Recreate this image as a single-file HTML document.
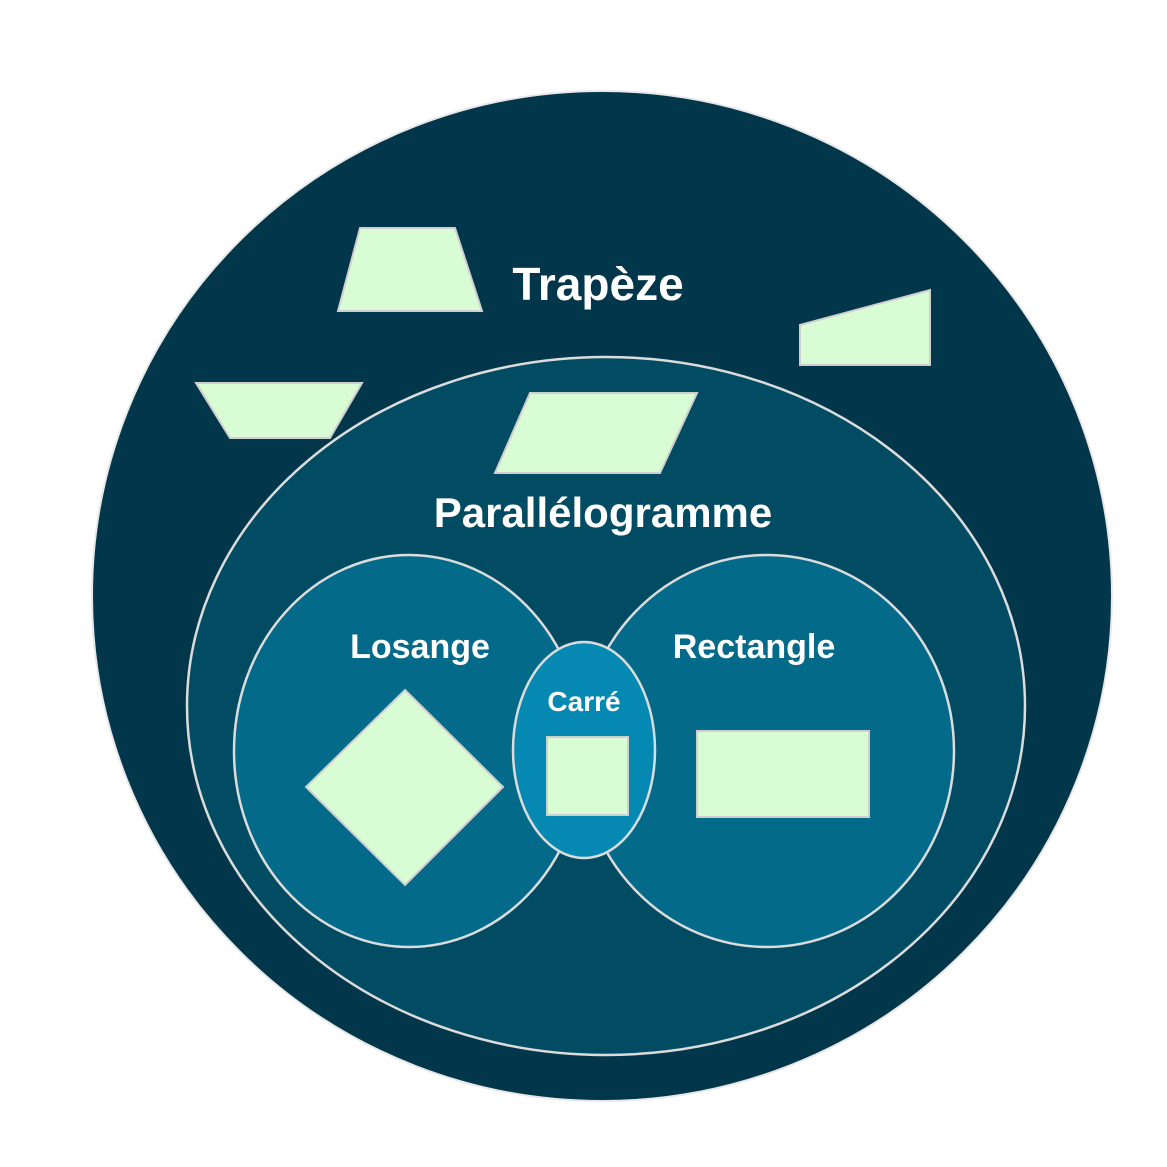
<!DOCTYPE html>
<html><head><meta charset="utf-8"><style>html,body{margin:0;padding:0;background:#fff}svg{display:block}</style></head>
<body>
<svg width="1167" height="1167" viewBox="0 0 1167 1167" xmlns="http://www.w3.org/2000/svg">
<ellipse cx="602" cy="596" rx="510" ry="505" fill="#02364a" stroke="#e8e8e8" stroke-width="2"/>
<ellipse cx="606" cy="706" rx="419" ry="349" fill="#024c63" stroke="#dcdcdc" stroke-width="2.5"/>
<ellipse cx="409" cy="751" rx="175" ry="196" fill="#036a8a" stroke="#dcdcdc" stroke-width="2.5"/>
<ellipse cx="767" cy="751" rx="187" ry="196" fill="#036a8a" stroke="#dcdcdc" stroke-width="2.5"/>
<ellipse cx="584" cy="750" rx="71" ry="108" fill="#0588b2" stroke="#dcdcdc" stroke-width="2.5"/>
<g fill="#d8fcd3" stroke="#cfcfcf" stroke-width="2">
<polygon points="360,228 455,228 482,311 338,311"/>
<polygon points="800,325 930,290 930,365 800,365"/>
<polygon points="196,383 362,383 330,438 230,438"/>
<polygon points="530,393 697,393 660,473 495,473"/>
<polygon points="405,690 503,787 405,885 306,787"/>
<rect x="547" y="737" width="81" height="78"/>
<rect x="697" y="731" width="172" height="86"/>
</g>
<g fill="#fff" font-family="Liberation Sans, sans-serif" font-weight="bold" text-anchor="middle">
<text x="598" y="300" font-size="46">Trapèze</text>
<text x="603" y="527" font-size="42">Parallélogramme</text>
<text x="420" y="658" font-size="34">Losange</text>
<text x="754" y="658" font-size="34">Rectangle</text>
<text x="584" y="711" font-size="28">Carré</text>
</g>
</svg>
</body></html>
